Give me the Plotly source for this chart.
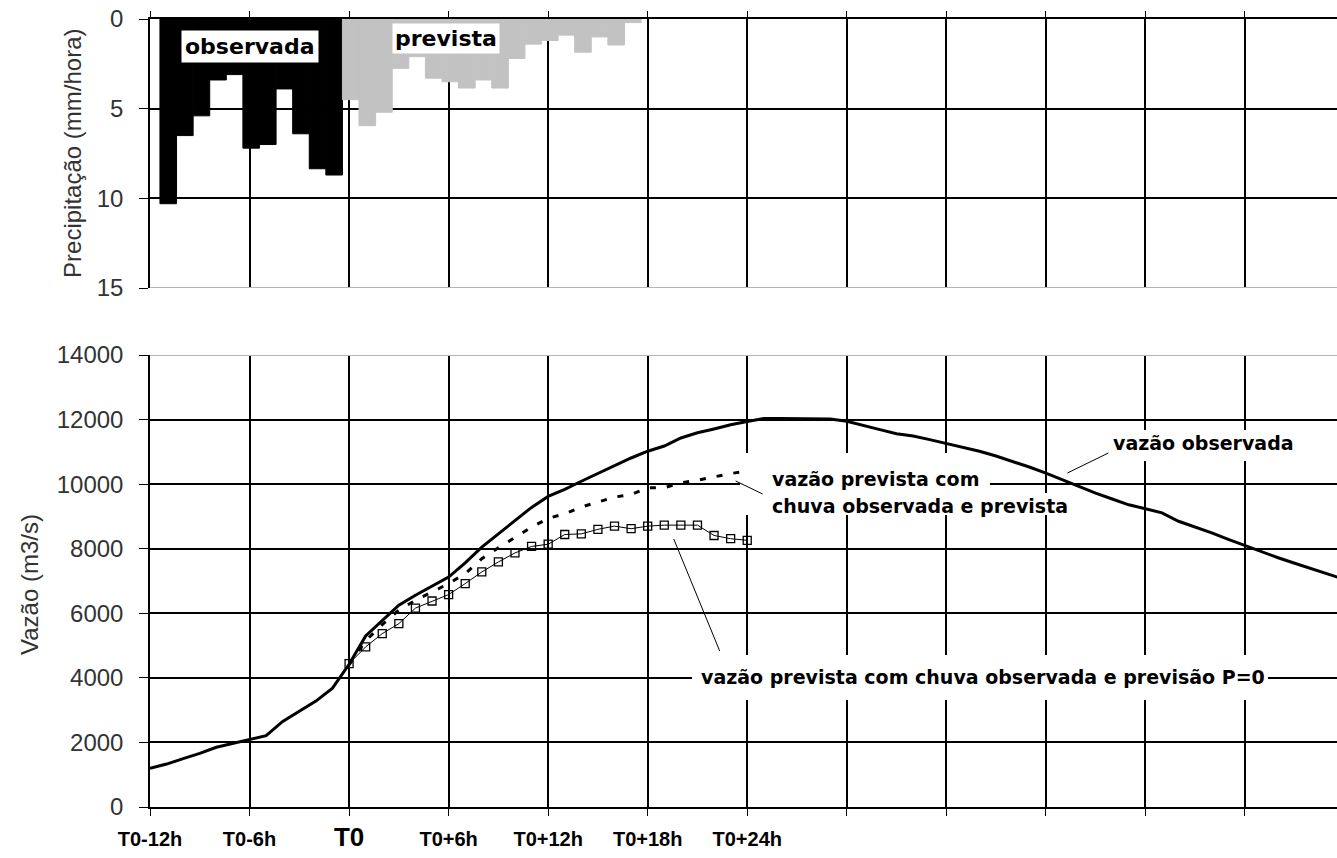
import plotly.graph_objects as go

# ---------------- data ----------------
rain_obs_hours = list(range(-11, 0))
rain_obs = [10.3, 6.5, 5.4, 3.4, 3.1, 7.2, 7.0, 3.9, 6.4, 8.35, 8.7]

rain_fc_hours = list(range(0, 18))
rain_fc = [4.5, 5.95, 5.2, 2.75, 2.1, 3.3, 3.5, 3.85, 3.4, 3.85, 2.2, 1.4,
           1.2, 0.9, 1.85, 1.0, 1.45, 0.2]

flow_hours = list(range(-12, 61))
flow_obs = [1200, 1330, 1500, 1660, 1850, 1970, 2100, 2210, 2650, 2970, 3280, 3680, 4420,
            5300, 5780, 6250, 6560, 6850, 7120, 7560, 8050, 8460, 8870, 9280, 9620,
            9840, 10090, 10330, 10580, 10810, 11020, 11180, 11430, 11590, 11710, 11840, 11940,
            12030, 12030, 12030, 12030, 12020, 11950, 11830, 11690, 11560, 11490, 11380, 11260,
            11120, 11020, 10870, 10710, 10530, 10340, 10130, 9930, 9720, 9540, 9360, 9240,
            9110, 8850, 8680, 8490, 8290, 8100, 7900, 7720, 7550, 7380, 7210, 7050]

fc_hours = list(range(0, 25))
flow_fc = [4400, 5150, 5650, 6100, 6400, 6650, 6920, 7230, 7690, 8030, 8360, 8670, 8940,
           9080, 9290, 9440, 9600, 9680, 9890, 9890, 10040, 10120, 10230, 10330, 10400]
flow_p0 = [4440, 4960, 5370, 5680, 6160, 6380, 6580, 6920, 7280, 7590, 7870, 8070, 8140,
           8440, 8460, 8600, 8700, 8620, 8700, 8730, 8730, 8730, 8410, 8310, 8260]

tick_vals = [-12, -6, 0, 6, 12, 18, 24, 30, 36, 42, 48, 54]
tick_text = ["T0-12h", "T0-6h", "<span style='font-size:26px'>T0</span>", "T0+6h",
             "T0+12h", "T0+18h", "T0+24h", "", "", "", "", ""]

rain_ticks = [0, 5, 10, 15]
flow_ticks = [0, 2000, 4000, 6000, 8000, 10000, 12000, 14000]

# ---------------- figure ----------------
fig = go.Figure()

fig.add_trace(go.Bar(x=rain_obs_hours, y=rain_obs, width=1, offset=-0.4,
                     marker=dict(color="black", line=dict(width=1, color="black")),
                     xaxis="x", yaxis="y", hoverinfo="x+y"))
fig.add_trace(go.Bar(x=rain_fc_hours, y=rain_fc, width=1, offset=-0.4,
                     marker=dict(color="#c2c2c2", line=dict(width=1, color="#c2c2c2")),
                     xaxis="x", yaxis="y", hoverinfo="x+y"))

fig.add_trace(go.Scatter(x=fc_hours, y=flow_p0, mode="lines+markers",
                         line=dict(color="black", width=1),
                         marker=dict(symbol="square-open", size=8, color="black",
                                     line=dict(width=1.3)),
                         xaxis="x2", yaxis="y2"))
fig.add_trace(go.Scatter(x=fc_hours, y=flow_fc, mode="lines",
                         line=dict(color="black", width=3, dash="6px,11px"),
                         xaxis="x2", yaxis="y2"))
fig.add_trace(go.Scatter(x=flow_hours, y=flow_obs, mode="lines",
                         line=dict(color="black", width=3),
                         xaxis="x2", yaxis="y2"))

tickfont_y = dict(family="Liberation Sans, Arial, sans-serif", size=24, color="#333333")
tickfont_x = dict(family="Liberation Sans, Arial, sans-serif", size=20, color="black",
                  weight="bold")

XR = [-12, 59.55]
common_x = dict(range=XR, tickvals=tick_vals, showgrid=True, gridcolor="black",
                gridwidth=1.5, showline=True, linecolor="black", linewidth=1.5,
                ticks="outside", tickcolor="black", zeroline=False, fixedrange=True,
                automargin=False)
common_y = dict(showgrid=True, gridcolor="black", gridwidth=1.5, showline=True,
                linecolor="black", linewidth=1.5, ticks="outside", ticklen=9,
                tickcolor="black", zeroline=False, tickfont=tickfont_y,
                ticklabelstandoff=11, ticklabeloverflow="allow",
                automargin=False, fixedrange=True)

fig.update_layout(
    width=1337, height=858,
    margin=dict(l=150, r=0, t=19, b=51, autoexpand=False),
    paper_bgcolor="white", plot_bgcolor="white",
    showlegend=False, barmode="overlay",
    xaxis=dict(domain=[0, 1], anchor="y", side="top", showticklabels=False,
               ticklen=6, **common_x),
    yaxis=dict(domain=[0.6586, 1], anchor="x", range=[15, 0], tickvals=rain_ticks,
               ticktext=[str(v) for v in rain_ticks], **common_y),
    xaxis2=dict(domain=[0, 1], anchor="y2", ticktext=tick_text, ticklen=7,
                tickfont=tickfont_x, ticklabelstandoff=6, ticklabeloverflow="allow",
                **common_x),
    yaxis2=dict(domain=[0, 0.5736], anchor="x2", range=[0, 14000], tickvals=flow_ticks,
                ticktext=[str(v) for v in flow_ticks], **common_y),
)

shapes = []
# light border lines at top of lower panel and bottom of upper panel
shapes.append(dict(type="line", xref="x2", yref="y2", x0=XR[0], x1=XR[1], y0=14000, y1=14000,
                   line=dict(color="#b4b4b4", width=2), layer="above"))
shapes.append(dict(type="line", xref="x", yref="y", x0=XR[0], x1=XR[1], y0=15, y1=15,
                   line=dict(color="#b4b4b4", width=2), layer="above"))
# white boxes behind labels (hide gridlines, keep curves)
for x0, x1, y0, y1 in [(45.56, 57.32, 10716, 11676), (23.56, 38.63, 9725, 10963),
                       (23.56, 43.58, 9043, 9725), (20.67, 55.39, 3314, 4707)]:
    shapes.append(dict(type="rect", xref="x2", yref="y2", x0=x0, x1=x1, y0=y0, y1=y1,
                       fillcolor="white", line=dict(width=0), layer="between"))
# leader lines
for x0, y0, x1, y1 in [(45.77, 10965, 43.3, 10345), (23.3, 10098, 24.93, 9695),
                       (19.57, 8301, 22.34, 4832)]:
    shapes.append(dict(type="line", xref="x2", yref="y2", x0=x0, y0=y0, x1=x1, y1=y1,
                       line=dict(color="black", width=1), layer="above"))
fig.update_layout(shapes=shapes)

afont = dict(family="DejaVu Sans, sans-serif", size=19, color="black")
bfont = dict(family="DejaVu Sans, sans-serif", size=22, color="black")
ann = [
    dict(text="<b>vazão observada</b>", x=45.95, y=11275, xref="x2", yref="y2",
         xanchor="left", yanchor="middle", showarrow=False, font=afont),
    dict(text="<b>vazão prevista com</b>", x=25.4, y=10160, xref="x2", yref="y2",
         xanchor="left", yanchor="middle", showarrow=False, font=afont),
    dict(text="<b>chuva observada e prevista</b>", x=25.4, y=9323, xref="x2", yref="y2",
         xanchor="left", yanchor="middle", showarrow=False, font=afont),
    dict(text="<b>vazão prevista com chuva observada e previsão P=0</b>", x=38.24, y=4026,
         xref="x2", yref="y2", xanchor="center", yanchor="middle", showarrow=False, font=afont),
    dict(text="<b>observada</b>", x=-6.0, y=1.56, xref="x", yref="y", showarrow=False,
         font=bfont, bgcolor="white", borderpad=3),
    dict(text="<b>prevista</b>", x=5.84, y=1.06, xref="x", yref="y", showarrow=False,
         font=bfont, bgcolor="white", borderpad=2),
    dict(text="Precipitação (mm/hora)", x=-0.0649, y=0.830, xref="paper", yref="paper",
         textangle=-90, showarrow=False, xanchor="center", yanchor="middle",
         font=dict(family="Liberation Sans, Arial, sans-serif", size=24, color="#333333")),
    dict(text="Vazão (m3/s)", x=-0.1011, y=0.283, xref="paper", yref="paper",
         textangle=-90, showarrow=False, xanchor="center", yanchor="middle",
         font=dict(family="Liberation Sans, Arial, sans-serif", size=24, color="#333333")),
]
fig.update_layout(annotations=ann)

# remove the page's default 8px body margin so the figure fills the window exactly
fig.write_html("out.html", config={"displayModeBar": False},
               post_script="document.body.style.margin='0';document.body.style.overflow='hidden';")
